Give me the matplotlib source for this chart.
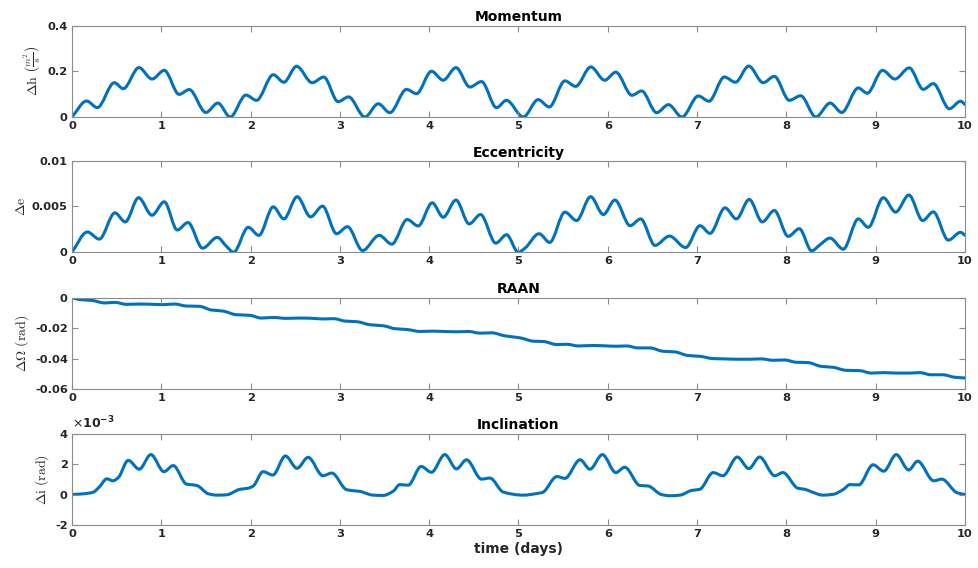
import matplotlib
matplotlib.use("Agg")
import matplotlib.pyplot as plt
from matplotlib.path import Path
from matplotlib.patches import PathPatch

plt.rcParams["mathtext.fontset"] = "cm"
plt.rcParams["font.family"] = ["DejaVu Sans"]

# Momentum deviation (m^2/s) vs time (days)
mom_t = [0, 0.164, 0.284, 0.474, 0.575, 0.75, 0.896, 1.034, 1.20, 1.313, 1.50, 1.634, 1.772,
         1.948, 2.067, 2.254, 2.373, 2.515, 2.69, 2.82, 2.98, 3.097, 3.28, 3.43, 3.56, 3.746,
         3.858, 4.026, 4.157, 4.30, 4.455, 4.586, 4.754, 4.866, 5.054, 5.22, 5.345, 5.52, 5.64,
         5.81, 5.965, 6.09, 6.27, 6.379, 6.547, 6.68, 6.83, 7.014, 7.133, 7.305, 7.43, 7.578,
         7.74, 7.865, 8.033, 8.16, 8.33, 8.49, 8.62, 8.805, 8.905, 9.077, 9.215, 9.376, 9.533,
         9.645, 9.825, 9.95, 10.0]
mom_v = [0, 0.070, 0.041, 0.150, 0.124, 0.216, 0.166, 0.204, 0.099, 0.120, 0.020, 0.061, 0.0,
         0.096, 0.073, 0.185, 0.152, 0.222, 0.150, 0.175, 0.067, 0.088, 0.0, 0.058, 0.019, 0.121,
         0.102, 0.200, 0.161, 0.216, 0.131, 0.155, 0.041, 0.073, 0.0, 0.076, 0.044, 0.158, 0.134,
         0.219, 0.161, 0.196, 0.095, 0.114, 0.019, 0.054, 0.0, 0.092, 0.069, 0.175, 0.152, 0.223,
         0.150, 0.178, 0.073, 0.093, 0.0, 0.061, 0.020, 0.127, 0.104, 0.204, 0.166, 0.215, 0.121,
         0.146, 0.036, 0.069, 0.055]

# Eccentricity deviation
ecc_t = [0, 0.172, 0.306, 0.481, 0.597, 0.746, 0.896, 1.034, 1.179, 1.299, 1.463, 1.627, 1.731,
         1.81, 1.974, 2.093, 2.254, 2.373, 2.522, 2.672, 2.806, 2.963, 3.086, 3.254, 3.44, 3.582,
         3.754, 3.877, 4.034, 4.157, 4.30, 4.448, 4.575, 4.746, 4.866, 4.998, 5.073, 5.23, 5.35,
         5.52, 5.651, 5.808, 5.95, 6.08, 6.25, 6.368, 6.529, 6.69, 6.872, 7.033, 7.145, 7.313,
         7.44, 7.584, 7.73, 7.865, 8.02, 8.145, 8.283, 8.376, 8.488, 8.637, 8.805, 8.917, 9.085,
         9.223, 9.372, 9.526, 9.645, 9.813, 9.95, 10.0]
ecc_v = [0, 0.00221, 0.00143, 0.0043, 0.00331, 0.00596, 0.00404, 0.00551, 0.00243, 0.00324,
         0.00044, 0.00162, 0.00063, 0.0, 0.00272, 0.00184, 0.00496, 0.00364, 0.00607, 0.00386,
         0.00504, 0.00202, 0.00279, 0.00018, 0.00184, 0.00088, 0.00357, 0.00287, 0.0054, 0.00382,
         0.0057, 0.00309, 0.00412, 0.00099, 0.00191, 0.0, 0.00044, 0.00202, 0.00107, 0.00438,
         0.00346, 0.00607, 0.00412, 0.0057, 0.0029, 0.00364, 0.00074, 0.00176, 0.00051, 0.0029,
         0.00206, 0.00485, 0.00364, 0.00577, 0.00331, 0.00456, 0.00173, 0.00257, 0.00015,
         0.00081, 0.00154, 0.00033, 0.00364, 0.00272, 0.00596, 0.00438, 0.00625, 0.00346,
         0.00441, 0.00132, 0.00217, 0.00184]

# RAAN deviation (rad)
raan_t = [0, 0.09, 0.22, 0.37, 0.48, 0.61, 0.76, 0.91, 1.02, 1.15, 1.28, 1.43, 1.56, 1.69, 1.84,
          1.99, 2.12, 2.25, 2.40, 2.55, 2.70, 2.81, 2.93, 3.06, 3.19, 3.34, 3.49, 3.62, 3.75,
          3.90, 4.03, 4.16, 4.31, 4.44, 4.57, 4.70, 4.85, 5.02, 5.17, 5.28, 5.43, 5.54, 5.67,
          5.84, 5.99, 6.10, 6.21, 6.34, 6.47, 6.62, 6.75, 6.90, 7.03, 7.18, 7.31, 7.44, 7.59,
          7.72, 7.85, 7.98, 8.11, 8.24, 8.39, 8.52, 8.67, 8.82, 8.95, 9.09, 9.23, 9.38, 9.49,
          9.62, 9.75, 9.89, 10.0]
raan_v = [0, -0.0013, -0.0018, -0.0035, -0.0031, -0.0044, -0.0042, -0.0044, -0.0046, -0.0042,
          -0.0055, -0.0057, -0.0081, -0.0088, -0.0112, -0.0116, -0.0134, -0.0130, -0.0136,
          -0.0134, -0.0136, -0.0140, -0.0138, -0.0154, -0.0158, -0.0178, -0.0185, -0.0204,
          -0.0209, -0.0222, -0.0220, -0.0222, -0.0224, -0.0222, -0.0233, -0.0231, -0.0251,
          -0.0264, -0.0286, -0.0288, -0.0308, -0.0306, -0.0317, -0.0314, -0.0317, -0.0319,
          -0.0317, -0.0330, -0.0330, -0.0352, -0.0356, -0.0380, -0.0385, -0.0400, -0.0402,
          -0.0404, -0.0404, -0.0402, -0.0411, -0.0409, -0.0424, -0.0426, -0.0451, -0.0457,
          -0.0477, -0.0479, -0.0495, -0.0492, -0.0495, -0.0495, -0.0492, -0.0506, -0.0506,
          -0.0523, -0.0527]

# Inclination deviation (1e-3 rad)
inc_t = [0, 0.09, 0.20, 0.24, 0.31, 0.39, 0.46, 0.52, 0.63, 0.754, 0.884, 1.03, 1.134, 1.284,
         1.358, 1.40, 1.526, 1.62, 1.73, 1.88, 1.97, 2.03, 2.14, 2.25, 2.39, 2.52, 2.645, 2.81,
         2.91, 3.075, 3.15, 3.22, 3.37, 3.485, 3.6, 3.67, 3.765, 3.91, 4.026, 4.175, 4.306,
         4.418, 4.586, 4.68, 4.83, 5.05, 5.24, 5.27, 5.43, 5.52, 5.69, 5.80, 5.94, 6.09, 6.19,
         6.36, 6.45, 6.60, 6.69, 6.81, 6.94, 7.03, 7.18, 7.29, 7.45, 7.58, 7.70, 7.87, 7.96,
         8.13, 8.21, 8.28, 8.41, 8.52, 8.64, 8.71, 8.81, 8.97, 9.09, 9.23, 9.37, 9.47, 9.65,
         9.74, 9.91, 10.0]
inc_v = [0, 0.03, 0.10, 0.16, 0.52, 1.03, 0.90, 1.12, 2.24, 1.66, 2.62, 1.50, 1.90, 0.68, 0.63,
         0.59, 0.05, -0.04, -0.02, 0.34, 0.41, 0.56, 1.50, 1.28, 2.53, 1.72, 2.44, 1.23, 1.41,
         0.32, 0.25, 0.21, -0.04, -0.06, 0.23, 0.65, 0.61, 1.84, 1.46, 2.62, 1.68, 2.28, 1.01,
         1.08, 0.16, -0.04, 0.10, 0.14, 1.18, 1.06, 2.28, 1.66, 2.62, 1.44, 1.79, 0.59, 0.56,
         0.0, -0.08, -0.04, 0.27, 0.34, 1.44, 1.23, 2.46, 1.70, 2.46, 1.23, 1.44, 0.41, 0.34,
         0.18, -0.04, 0.01, 0.34, 0.65, 0.63, 1.95, 1.53, 2.62, 1.61, 2.19, 0.90, 1.01, 0.12,
         0.0]

x_ticks = list(range(0, 11))
titles = ["Momentum", "Eccentricity", "RAAN", "Inclination"]

LINE = "#0072BD"
AXC = "#8c8c8c"
TXT = "#262626"


def smooth_curve(t, v):
    """Cubic Bezier path through every sample, with flat tangents at local
    extremes so the drawn line never overshoots the sampled values."""
    n = len(t)
    h = [t[i + 1] - t[i] for i in range(n - 1)]
    d = [(v[i + 1] - v[i]) / h[i] for i in range(n - 1)]
    m = [0.0] * n
    m[0], m[-1] = d[0], d[-1]
    for i in range(1, n - 1):
        if d[i - 1] * d[i] <= 0:
            m[i] = 0.0
        else:
            w1 = 2 * h[i] + h[i - 1]
            w2 = h[i] + 2 * h[i - 1]
            m[i] = (w1 + w2) / (w1 / d[i - 1] + w2 / d[i])
    verts = [(t[0], v[0])]
    codes = [Path.MOVETO]
    for i in range(n - 1):
        verts += [(t[i] + h[i] / 3, v[i] + m[i] * h[i] / 3),
                  (t[i + 1] - h[i] / 3, v[i + 1] - m[i + 1] * h[i] / 3),
                  (t[i + 1], v[i + 1])]
        codes += [Path.CURVE4] * 3
    return Path(verts, codes)


fig = plt.figure(figsize=(9.79, 5.68), dpi=100)
left, width = 0.0735, 0.9122
bottoms = [0.794, 0.556, 0.315, 0.0757]
height = 0.161
axes = [fig.add_axes([left, b, width, height]) for b in bottoms]

series = [(mom_t, mom_v), (ecc_t, ecc_v), (raan_t, raan_v),
          (inc_t, [v * 1e-3 for v in inc_v])]
for ax, (t, v), title in zip(axes, series, titles):
    ax.add_patch(PathPatch(smooth_curve(t, v), fill=False, edgecolor=LINE, lw=2.2,
                           capstyle="round", joinstyle="round"))
    ax.set_xlim(0, 10)
    ax.set_xticks(x_ticks)
    ax.set_xticklabels([str(x) for x in x_ticks])
    ax.set_title(title, fontsize=10, fontweight="bold", color="black", pad=3)
    ax.tick_params(direction="in", top=True, right=True, length=4, width=0.8,
                   color=AXC, labelsize=8.2, labelcolor=TXT, pad=3)
    for s in ax.spines.values():
        s.set_color(AXC)
        s.set_linewidth(0.8)

axes[0].set_ylim(0, 0.4)
axes[0].set_yticks([0, 0.2, 0.4])
axes[0].set_yticklabels(["0", "0.2", "0.4"])
axes[0].set_ylabel(r"$\Delta\mathrm{h}\ \left(\frac{m^2}{s}\right)$", fontsize=10, color=TXT)

axes[1].set_ylim(0, 0.01)
axes[1].set_yticks([0, 0.005, 0.01])
axes[1].set_yticklabels(["0", "0.005", "0.01"])
axes[1].set_ylabel(r"$\Delta\mathrm{e}$", fontsize=10, color=TXT)

axes[2].set_ylim(-0.06, 0)
axes[2].set_yticks([-0.06, -0.04, -0.02, 0])
axes[2].set_yticklabels(["-0.06", "-0.04", "-0.02", "0"])
axes[2].set_ylabel(r"$\Delta\Omega\ \mathrm{(rad)}$", fontsize=10, color=TXT)

axes[3].set_ylim(-2e-3, 4e-3)
axes[3].set_yticks([-2e-3, 0, 2e-3, 4e-3])
axes[3].set_yticklabels(["-2", "0", "2", "4"])
axes[3].set_ylabel(r"$\Delta\mathrm{i}\ \mathrm{(rad)}$", fontsize=10, color=TXT)
axes[3].text(0.0, 1.02, r"$\times\mathbf{10}^{\mathbf{-3}}$", transform=axes[3].transAxes,
             fontsize=9, color=TXT, ha="left", va="bottom", math_fontfamily="dejavusans")
axes[3].set_xlabel("time (days)", fontsize=10, fontweight="bold", color=TXT, labelpad=2)

for ax in axes:
    for lab in ax.get_xticklabels() + ax.get_yticklabels():
        lab.set_fontweight("bold")
    ax.yaxis.labelpad = 3

fig.savefig("out.png", dpi=100)
